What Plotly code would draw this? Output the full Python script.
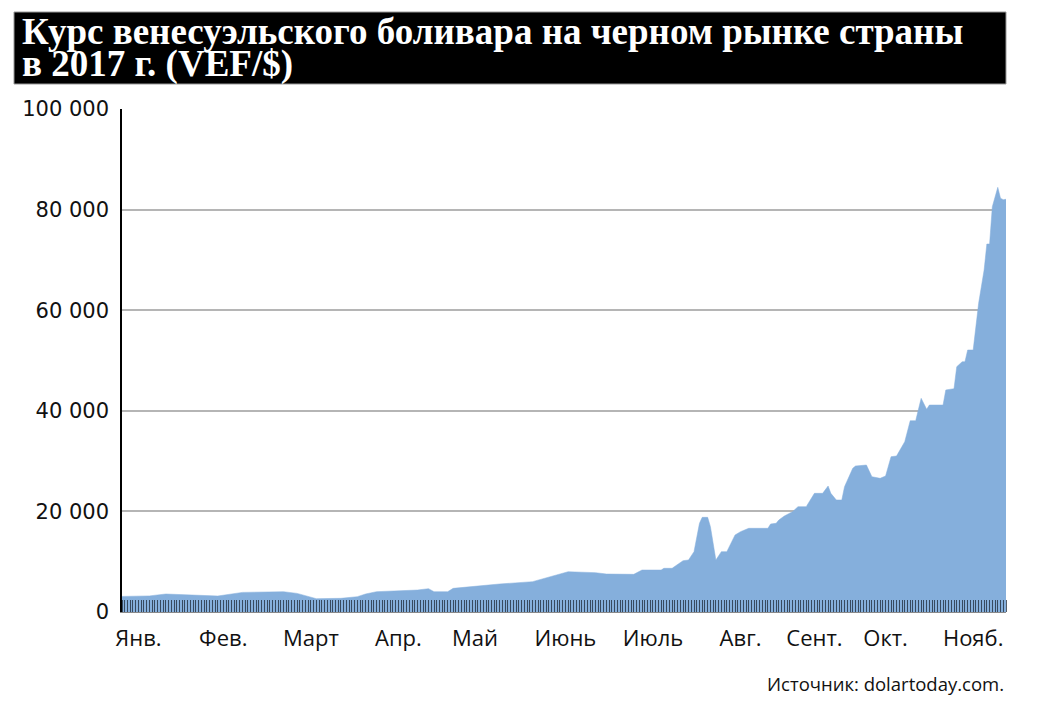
import plotly.graph_objects as go

# --- data ---
dates = [
    "2017-01-01", "2017-01-11", "2017-01-17", "2017-01-29", "2017-02-05", "2017-02-14",
    "2017-03-01", "2017-03-06", "2017-03-13", "2017-03-22", "2017-03-28", "2017-03-31",
    "2017-04-04", "2017-04-19", "2017-04-23", "2017-04-25", "2017-04-30", "2017-05-02",
    "2017-05-11", "2017-05-19", "2017-05-31", "2017-06-06", "2017-06-13", "2017-06-23",
    "2017-06-27", "2017-07-07", "2017-07-10", "2017-07-17", "2017-07-18", "2017-07-21",
    "2017-07-25", "2017-07-27", "2017-07-29", "2017-07-31", "2017-08-01", "2017-08-03",
    "2017-08-04", "2017-08-06", "2017-08-08", "2017-08-10", "2017-08-13", "2017-08-15",
    "2017-08-18", "2017-08-25", "2017-08-26", "2017-08-28", "2017-08-29", "2017-08-31",
    "2017-09-03", "2017-09-05", "2017-09-08", "2017-09-11", "2017-09-14", "2017-09-16",
    "2017-09-17", "2017-09-19", "2017-09-21", "2017-09-22", "2017-09-25", "2017-09-26",
    "2017-09-30", "2017-10-02", "2017-10-05", "2017-10-07", "2017-10-09", "2017-10-11",
    "2017-10-14", "2017-10-16", "2017-10-18", "2017-10-20", "2017-10-22", "2017-10-23",
    "2017-10-28", "2017-10-29", "2017-11-01", "2017-11-02", "2017-11-04", "2017-11-05",
    "2017-11-06", "2017-11-08", "2017-11-09", "2017-11-10", "2017-11-12", "2017-11-13",
    "2017-11-14", "2017-11-15", "2017-11-17", "2017-11-18", "2017-11-19", "2017-11-20",
]
rate = [
    3100, 3200, 3580, 3380, 3180, 3900,
    4040, 3700, 2650, 2720, 3050, 3580,
    4040, 4370, 4640, 4040, 4040, 4700,
    5170, 5570, 6030, 6900, 8010, 7820,
    7550, 7490, 8350, 8350, 8690, 8690,
    10200, 10340, 12000, 17630, 18820, 18820,
    16960, 10340, 12000, 12000, 15310, 15970,
    16640, 16640, 17500, 17630, 18290, 19080,
    19940, 20940, 20940, 23590, 23590, 25050,
    23590, 22270, 22270, 24910, 28560, 29020,
    29220, 26900, 26570, 27040, 30880, 31010,
    33850, 38030, 38030, 42480, 40300, 41150,
    41150, 44140, 44400, 48770, 49760, 49760,
    52090, 52090, 57390, 61370, 67990, 73160,
    73160, 80580, 84430, 82240, 81980, 82050,
]

month_ticks = ["2017-01-07", "2017-02-07", "2017-03-11", "2017-04-12", "2017-05-10",
               "2017-06-12", "2017-07-14", "2017-08-15", "2017-09-11", "2017-10-07",
               "2017-11-08"]
month_labels = ["Янв.", "Фев.", "Март", "Апр.", "Май", "Июнь", "Июль", "Авг.",
                "Сент.", "Окт.", "Нояб."]

y_ticks = [0, 20000, 40000, 60000, 80000, 100000]
y_labels = ["0", "20 000", "40 000", "60 000", "80 000", "100 000"]

title_line1 = "Курс венесуэльского боливара на черном рынке страны"
title_line2 = "в 2017 г. (VEF/$)"
source = "Источник: dolartoday.com."

# --- figure ---
L, R, T, B = 122, 32, 109, 104
W, H = 1038, 716
PH = H - T - B
PW = W - L - R


def px(x):
    return (x - L) / PW


def py(y):
    return (H - B - y) / PH


fig = go.Figure()
fig.add_trace(go.Scatter(
    x=dates, y=rate, mode="lines", fill="tozeroy",
    line=dict(color="#85afdc", width=0.5),
    fillcolor="#85afdc", hoverinfo="x+y",
))

fig.update_layout(
    width=W, height=H,
    margin=dict(l=L, r=R, t=T, b=B),
    paper_bgcolor="white", plot_bgcolor="white",
    showlegend=False,
    xaxis=dict(
        type="date",
        range=["2017-01-01", "2017-11-20"],
        tickmode="array", tickvals=month_ticks, ticktext=month_labels,
        ticks="", ticklabelstandoff=7,
        tickfont=dict(family="Open Sans", size=22, color="#111"),
        showgrid=False, zeroline=False,
        showline=True, linecolor="#8a8a8a", linewidth=1,
        minor=dict(ticks="inside", tickmode="linear", tick0="2017-01-01",
                   dtick=86400000, ticklen=12, tickwidth=1,
                   tickcolor="rgba(30,40,55,0.75)", showgrid=False),
        layer="above traces",
        fixedrange=True,
    ),
    yaxis=dict(
        range=[0, 100000],
        tickmode="array", tickvals=y_ticks, ticktext=y_labels,
        ticks="outside", ticklen=7, tickcolor="rgba(0,0,0,0)",
        tickfont=dict(family="DejaVu Sans", size=21, color="#111"),
        showgrid=True, gridcolor="#b5b5b5", gridwidth=1.5,
        zeroline=False,
        showline=True, linecolor="#000", linewidth=1.5,
        fixedrange=True,
    ),
)

# title band
fig.add_shape(type="rect", xref="paper", yref="paper",
              x0=px(14), x1=px(1006), y0=py(84), y1=py(12),
              fillcolor="#000", line=dict(color="#999", width=1), layer="above")
title_font = dict(family="Liberation Serif, serif",
                  size=37, color="white", weight="bold")
fig.add_annotation(xref="paper", yref="paper", x=px(20), y=py(31),
                   xanchor="left", yanchor="middle", showarrow=False,
                   text=title_line1, font=title_font)
fig.add_annotation(xref="paper", yref="paper", x=px(20), y=py(64),
                   xanchor="left", yanchor="middle", showarrow=False,
                   text=title_line2, font=title_font)
fig.add_annotation(xref="paper", yref="paper", x=px(1006), y=py(683),
                   xanchor="right", yanchor="middle", showarrow=False,
                   text=source,
                   font=dict(family="Open Sans", size=18.5, color="#111"))

fig.write_html("out.html")
